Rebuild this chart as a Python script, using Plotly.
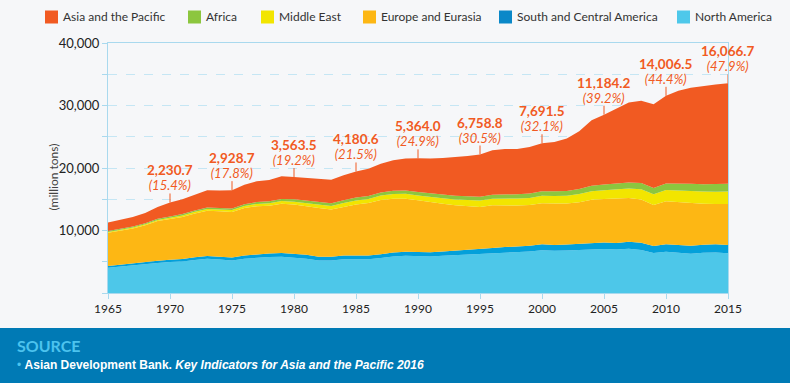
import plotly.graph_objects as go

years = list(range(1965, 2016))

north_america = [4040, 4250, 4400, 4600, 4800, 4950, 5050, 5300, 5500, 5350,
                 5200, 5500, 5650, 5750, 5800, 5650, 5500, 5200, 5200, 5400,
                 5400, 5400, 5600, 5850, 5950, 5900, 5850, 5950, 6050, 6150,
                 6200, 6400, 6500, 6550, 6650, 6850, 6750, 6800, 6900, 7000,
                 7050, 6950, 7100, 6900, 6400, 6600, 6500, 6300, 6450, 6500,
                 6350]
south_central_america = [300, 310, 320, 340, 355, 370, 390, 410, 440, 455,
                         470, 500, 530, 560, 590, 600, 610, 610, 600, 590,
                         580, 600, 620, 630, 640, 650, 670, 690, 710, 740,
                         780, 810, 850, 880, 900, 940, 950, 950, 970, 1000,
                         1030, 1070, 1110, 1150, 1140, 1200, 1240, 1270, 1290, 1310,
                         1330]
europe_eurasia = [5300, 5370, 5595, 5895, 6350, 6524, 6740, 7030, 7225, 7270,
                  7284, 7590, 7700, 7670, 7900, 7916, 7840, 7810, 7560, 7805,
                  8184, 8390, 8680, 8610, 8510, 8278, 8010, 7660, 7300, 6980,
                  6791, 6840, 6650, 6570, 6520, 6569, 6610, 6560, 6660, 6930,
                  6977, 7100, 6980, 6930, 6530, 6869, 6770, 6880, 6560, 6440,
                  6565]
middle_east = [130, 140, 150, 170, 190, 210, 240, 260, 290, 300,
               310, 350, 380, 400, 430, 450, 470, 510, 560, 600,
               640, 670, 700, 740, 770, 790, 810, 870, 920, 980,
               1010, 1050, 1090, 1120, 1150, 1190, 1230, 1270, 1320, 1370,
               1400, 1480, 1550, 1640, 1720, 1800, 1850, 1900, 1940, 1970,
               2000]
africa = [150, 160, 165, 175, 185, 200, 210, 220, 235, 245,
          260, 280, 300, 320, 340, 380, 400, 420, 430, 445,
          460, 480, 500, 520, 540, 560, 570, 580, 590, 600,
          620, 640, 660, 680, 700, 720, 740, 760, 800, 850,
          890, 920, 950, 980, 1010, 1070, 1090, 1130, 1160, 1200,
          1230]
asia_pacific = [1380, 1500, 1520, 1620, 1880, 2230.7, 2360, 2520, 2760, 2780,
                2928.7, 3120, 3310, 3400, 3620, 3563.5, 3580, 3640, 3790, 3990,
                4180.6, 4360, 4600, 4890, 5100, 5364.0, 5600, 5850, 6150, 6480,
                6758.8, 7100, 7300, 7250, 7450, 7691.5, 7900, 8380, 9250, 10500,
                11184.2, 12000, 12800, 13150, 13400, 14006.5, 14900, 15350, 15750, 15950,
                16066.7]

label_years = [1970, 1975, 1980, 1985, 1990, 1995, 2000, 2005, 2010, 2015]
asia_share_pct = [15.4, 17.8, 19.2, 21.5, 24.9, 30.5, 32.1, 39.2, 44.4, 47.9]

x_tick_vals = [1965, 1970, 1975, 1980, 1985, 1990, 1995, 2000, 2005, 2010, 2015]
y_tick_vals = [10000, 20000, 30000, 40000]

# stacking order bottom -> top
series = [
    ("North America", north_america, "#4dc7e9"),
    ("South and Central America", south_central_america, "#03a0da"),
    ("Europe and Eurasia", europe_eurasia, "#fdb714"),
    ("Middle East", middle_east, "#f2e500"),
    ("Africa", africa, "#8cc63f"),
    ("Asia and the Pacific", asia_pacific, "#f15a22"),
]
legend_order = ["Asia and the Pacific", "Africa", "Middle East",
                "Europe and Eurasia", "South and Central America", "North America"]
legend_swatch = {"Asia and the Pacific": "#f15a22", "Africa": "#8cc63f",
                 "Middle East": "#f2e500", "Europe and Eurasia": "#fdb714",
                 "South and Central America": "#0a88c8", "North America": "#4ec8ea"}

ORANGE = "#f15a22"
FONT = "Lato"

W, H = 790, 383
ML, MR, MT, MB = 108, 62, 43, 90
PW, PH = W - ML - MR, H - MT - MB


def px_x(p):
    return (p - ML) / PW


def px_y(p):
    return (H - MB - p) / PH


fig = go.Figure()
for name, vals, col in series:
    fig.add_trace(go.Scatter(
        x=years, y=vals, name=name, stackgroup="one", mode="lines",
        line=dict(width=0, color=col), fillcolor=col,
        showlegend=False, hovertemplate="%{x}: %{y:,.1f}<extra>" + name + "</extra>"))

totals = [sum(s[1][i] for s in series) for i in range(len(years))]

shapes = []
annotations = []
for yr, pct in zip(label_years, asia_share_pct):
    i = years.index(yr)
    tot = totals[i]
    val = asia_pacific[i]
    shapes.append(dict(type="line", xref="x", yref="y", ysizemode="pixel",
                       yanchor=tot, x0=yr, x1=yr, y0=0, y1=9,
                       line=dict(color=ORANGE, width=1)))
    annotations.append(dict(
        x=yr, y=tot, xref="x", yref="y", showarrow=False,
        text=(f"<span style='font-size:13.5px'><b>{val:,.1f}</b></span><br>"
              f"<span style='font-size:13px'><i>({pct}%)</i></span>"),
        yanchor="bottom", yshift=8, borderpad=0,
        font=dict(family=FONT, size=11.5, color=ORANGE)))

# manual legend (single row)
legend_left_px = [45, 188, 261, 363, 499, 677]
for name, lx in zip(legend_order, legend_left_px):
    shapes.append(dict(type="rect", xref="paper", yref="paper",
                       x0=px_x(lx), x1=px_x(lx + 13), y0=px_y(23.5), y1=px_y(10.5),
                       fillcolor=legend_swatch[name], line=dict(width=0)))
    annotations.append(dict(x=px_x(lx + 17), y=px_y(17), xref="paper", yref="paper",
                            showarrow=False, xanchor="left", yanchor="middle", text=name,
                            borderpad=0,
                            font=dict(family=FONT, size=12, color="#333333")))

# y-axis title
annotations.append(dict(x=px_x(43), y=px_y(177), xref="paper", yref="paper", showarrow=False,
                        text="(million tons)", textangle=-90,
                        font=dict(family=FONT, size=12, color="#444444")))

# footer
shapes.append(dict(type="rect", xref="paper", yref="paper", x0=px_x(-10), x1=px_x(W + 10),
                   y0=px_y(H + 10), y1=px_y(328), fillcolor="#007ab5", line=dict(width=0),
                   layer="below"))
annotations.append(dict(x=px_x(15), y=px_y(345), xref="paper", yref="paper", showarrow=False,
                        xanchor="left", yanchor="middle", text="<b>SOURCE</b>",
                        font=dict(family=FONT, size=16, color="#4cc3ee")))
annotations.append(dict(x=px_x(15), y=px_y(365), xref="paper", yref="paper", showarrow=False,
                        xanchor="left", yanchor="middle",
                        text="<span style='color:#4cc3ee'>•</span> <b>Asian Development Bank. <i>Key Indicators for Asia and the Pacific 2016</i></b>",
                        font=dict(family="Liberation Sans", size=12, color="#ffffff")))

axis_line = "#a9d9ee"
grid_col = "#c5e6f4"

fig.update_layout(
    width=W, height=H,
    margin=dict(l=ML, r=MR, t=MT, b=MB, autoexpand=False),
    paper_bgcolor="#f6f7f9", plot_bgcolor="#f6f7f9",
    font=dict(family=FONT, size=12, color="#222222"),
    showlegend=False,
    shapes=shapes, annotations=annotations,
    xaxis=dict(range=[1965, 2015], tickvals=x_tick_vals, showgrid=False,
               showline=True, linecolor=axis_line, linewidth=1, mirror=True,
               ticks="outside", ticklen=5, tickcolor=axis_line,
               tickfont=dict(family=FONT, size=12, color="#222222"), zeroline=False),
    yaxis=dict(range=[0, 40000], tickvals=y_tick_vals, tickformat=",",
               showline=True, linecolor=axis_line, linewidth=1, mirror=True,
               ticks="outside", ticklen=5, tickcolor=axis_line,
               showgrid=True, gridcolor=grid_col, griddash="dash", gridwidth=1,
               minor=dict(dtick=5000, tick0=0, ticks="outside", ticklen=5,
                          tickcolor=axis_line, showgrid=True, gridcolor=grid_col,
                          griddash="dash"),
               tickfont=dict(family=FONT, size=13, color="#222222"), zeroline=False),
)

fig.write_html(
    "out.html",
    config={"displayModeBar": False},
    post_script="document.body.style.margin='0px';document.body.style.overflow='hidden';"
                "document.body.style.background='#f6f7f9';",
)
